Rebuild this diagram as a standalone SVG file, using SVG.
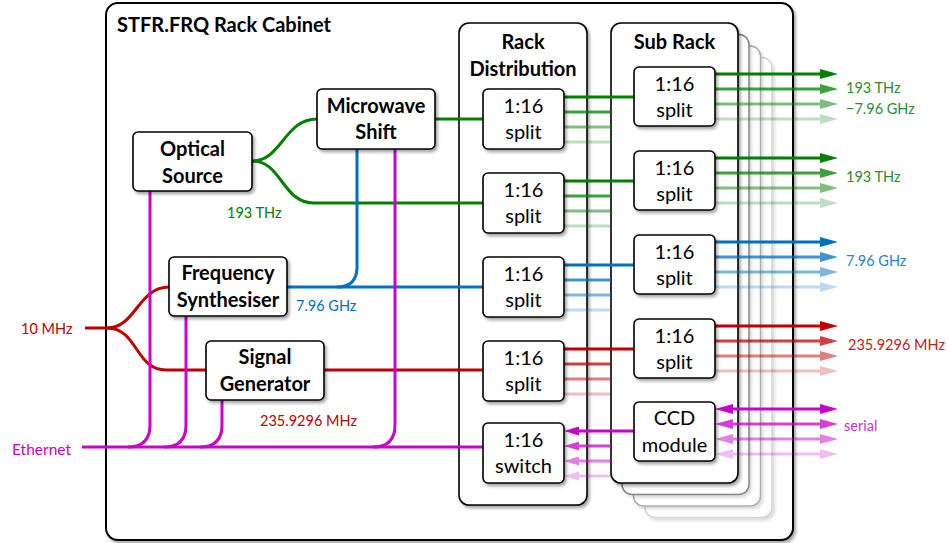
<svg xmlns="http://www.w3.org/2000/svg" width="948" height="543" viewBox="0 0 948 543">
<defs>
<filter id="sh" x="-20%" y="-20%" width="140%" height="140%"><feDropShadow dx="2" dy="2.5" stdDeviation="1.8" flood-color="#000" flood-opacity="0.35"/></filter>
<filter id="shl" x="-20%" y="-20%" width="140%" height="140%"><feDropShadow dx="2" dy="2.5" stdDeviation="1.8" flood-color="#000" flood-opacity="0.15"/></filter>
<marker id="aG" markerUnits="userSpaceOnUse" markerWidth="18" markerHeight="10" refX="8" refY="5" orient="auto-start-reverse"><path d="M0,0 L18,5 L0,10 z" fill="#008000"/></marker>
<marker id="aB" markerUnits="userSpaceOnUse" markerWidth="18" markerHeight="10" refX="8" refY="5" orient="auto-start-reverse"><path d="M0,0 L18,5 L0,10 z" fill="#0070c0"/></marker>
<marker id="aR" markerUnits="userSpaceOnUse" markerWidth="18" markerHeight="10" refX="8" refY="5" orient="auto-start-reverse"><path d="M0,0 L18,5 L0,10 z" fill="#c00000"/></marker>
<marker id="aM" markerUnits="userSpaceOnUse" markerWidth="18" markerHeight="10" refX="8" refY="5" orient="auto-start-reverse"><path d="M0,0 L18,5 L0,10 z" fill="#cc00cc"/></marker>
<marker id="aMs" markerUnits="userSpaceOnUse" markerWidth="15" markerHeight="9" refX="7" refY="4.5" orient="auto"><path d="M0,0 L15,4.5 L0,9 z" fill="#cc00cc"/></marker>
</defs>
<style>
.box{fill:#fff;stroke:#000;stroke-width:1.6;filter:url(#sh)}
.panel{fill:#fff;stroke:#000;stroke-width:1.6;filter:url(#sh)}
.layer{fill:#fff;stroke-width:1.5;filter:url(#shl)}
.t{font-family:Lato,"Open Sans","Liberation Sans",sans-serif;font-size:20px;text-anchor:middle;fill:#000}
.b{font-weight:bold}
.lbl{font-family:Lato,"Open Sans","Liberation Sans",sans-serif;font-size:14.5px}
.w{fill:none;stroke-width:3}
.g{stroke:#008000}.bl{stroke:#0070c0}.r{stroke:#c00000}.m{stroke:#cc00cc}
.o2{opacity:0.75}.o3{opacity:0.5}.o4{opacity:0.25}
</style>
<rect width="948" height="543" fill="#fff"/>

<g id="cabinet">
<rect class="panel" x="106" y="3" width="687" height="537" rx="12" style="stroke-width:2"/>
<text class="t b" x="117" y="31.5" style="text-anchor:start">STFR.FRQ Rack Cabinet</text>
</g>

<g id="rack-distribution">
<rect class="panel" x="459" y="23" width="128" height="482" rx="10"/>
<text class="t b" x="523" y="49">Rack</text>
<text class="t b" x="523" y="76">Distribution</text>
</g>

<g id="sub-rack-stack">
<rect class="layer" x="645" y="57.5" width="127" height="460" rx="10" style="stroke:#d4d4d4"/>
<rect class="layer" x="633.5" y="46" width="127" height="460" rx="10" style="stroke:#ababab"/>
<rect class="layer" x="622" y="34.5" width="127" height="460" rx="10" style="stroke:#828282"/>
</g>
<g id="sub-rack">
<rect class="panel" x="611" y="23" width="127" height="460" rx="10"/>
<text class="t b" x="674.5" y="49">Sub Rack</text>
</g>

<g id="connectors">
<g class="w g">
<path d="M252,161 C282,161 284,119 317,119"/>
<path d="M252,161 C282,161 282,203 314,203 H483"/>
<path d="M435,119 H483"/>
<path d="M564,97 H634"/>
<path d="M564,181 H634"/>
</g>
<g class="w g o2"><path d="M564,112 H611 M564,196 H611"/></g>
<g class="w g o3"><path d="M564,127 H611 M564,211 H611"/></g>
<g class="w g o4"><path d="M564,142 H611 M564,226 H611"/></g>
<g class="w g" marker-end="url(#aG)"><path d="M715,74 H828"/><path d="M715,158 H828"/></g>
<g class="w g o2" marker-end="url(#aG)"><path d="M715,89 H828"/><path d="M715,173 H828"/></g>
<g class="w g o3" marker-end="url(#aG)"><path d="M715,104 H828"/><path d="M715,188 H828"/></g>
<g class="w g o4" marker-end="url(#aG)"><path d="M715,119 H828"/><path d="M715,203 H828"/></g>
<g class="w bl">
<path d="M357,149 V267 Q357,287 337,287"/>
<path d="M287,287 H483"/>
<path d="M564,265 H634"/>
</g>
<g class="w bl o2"><path d="M564,280 H611"/></g>
<g class="w bl o3"><path d="M564,295 H611"/></g>
<g class="w bl o4"><path d="M564,310 H611"/></g>
<g class="w bl" marker-end="url(#aB)"><path d="M715,242 H828"/></g>
<g class="w bl o2" marker-end="url(#aB)"><path d="M715,257 H828"/></g>
<g class="w bl o3" marker-end="url(#aB)"><path d="M715,272 H828"/></g>
<g class="w bl o4" marker-end="url(#aB)"><path d="M715,287 H828"/></g>
<g class="w r">
<path d="M85,328 H107"/>
<path d="M107,328 C136,328 138,287 169,287"/>
<path d="M107,328 C138,328 135,370 166,370 H206"/>
<path d="M324,370 H483"/>
<path d="M564,349 H634"/>
</g>
<g class="w r o2"><path d="M564,364 H611"/></g>
<g class="w r o3"><path d="M564,379 H611"/></g>
<g class="w r o4"><path d="M564,394 H611"/></g>
<g class="w r" marker-end="url(#aR)"><path d="M715,326 H828"/></g>
<g class="w r o2" marker-end="url(#aR)"><path d="M715,341 H828"/></g>
<g class="w r o3" marker-end="url(#aR)"><path d="M715,356 H828"/></g>
<g class="w r o4" marker-end="url(#aR)"><path d="M715,371 H828"/></g>
<g class="w m">
<path d="M82,447 H483"/>
<path d="M150,191 V425 Q150,447 128,447"/>
<path d="M186,316 V425 Q186,447 164,447"/>
<path d="M222,400 V425 Q222,447 200,447"/>
<path d="M395,149 V425 Q395,447 373,447"/>
</g>
<g class="w m" marker-end="url(#aMs)"><path d="M634,431 H572"/></g>
<g class="w m o2" marker-end="url(#aMs)"><path d="M611,446 H572"/></g>
<g class="w m o3" marker-end="url(#aMs)"><path d="M611,461 H572"/></g>
<g class="w m o4" marker-end="url(#aMs)"><path d="M611,476 H572"/></g>
<g class="w m" marker-start="url(#aM)" marker-end="url(#aM)"><path d="M725,409 H828"/></g>
<g class="w m o2" marker-start="url(#aM)" marker-end="url(#aM)"><path d="M725,424 H828"/></g>
<g class="w m o3" marker-start="url(#aM)" marker-end="url(#aM)"><path d="M725,439 H828"/></g>
<g class="w m o4" marker-start="url(#aM)" marker-end="url(#aM)"><path d="M725,454 H828"/></g>
</g>

<g id="labels" class="lbl">
<text x="227" y="218" fill="#008000">193 THz</text>
<text x="296" y="311" fill="#0070c0">7.96 GHz</text>
<text x="260" y="426" fill="#c00000">235.9296 MHz</text>
<text x="21" y="334" fill="#c00000">10 MHz</text>
<text x="12" y="455" fill="#cc00cc" style="font-size:15.5px">Ethernet</text>
<text x="846" y="93" fill="#2e8b2e">193 THz</text>
<text x="846" y="114" fill="#2e8b2e">−7.96 GHz</text>
<text x="846" y="182" fill="#2e8b2e">193 THz</text>
<text x="846" y="266" fill="#2f7fc4">7.96 GHz</text>
<text x="848" y="350" fill="#c42020">235.9296 MHz</text>
<text x="844" y="431" fill="#cc33cc">serial</text>
</g>

<g id="optical-source"><rect class="box" x="133" y="132" width="119" height="59" rx="5"/><text class="t b" x="192.5" y="156">Optical</text><text class="t b" x="192.5" y="183">Source</text></g>
<g id="microwave-shift"><rect class="box" x="317" y="89" width="118" height="60" rx="5"/><text class="t b" x="376" y="113">Microwave</text><text class="t b" x="376" y="139">Shift</text></g>
<g id="frequency-synthesiser"><rect class="box" x="169" y="257" width="118" height="59" rx="5"/><text class="t b" x="228" y="280">Frequency</text><text class="t b" x="228" y="307">Synthesiser</text></g>
<g id="signal-generator"><rect class="box" x="206" y="341" width="118" height="59" rx="5"/><text class="t b" x="265" y="364">Signal</text><text class="t b" x="265" y="391">Generator</text></g>

<g id="rd-split-1"><rect class="box" x="483" y="89" width="81" height="60" rx="5"/><text class="t" x="523.5" y="113">1:16</text><text class="t" x="523.5" y="139">split</text></g>
<g id="rd-split-2"><rect class="box" x="483" y="173" width="81" height="60" rx="5"/><text class="t" x="523.5" y="197">1:16</text><text class="t" x="523.5" y="223">split</text></g>
<g id="rd-split-3"><rect class="box" x="483" y="257" width="81" height="60" rx="5"/><text class="t" x="523.5" y="281">1:16</text><text class="t" x="523.5" y="307">split</text></g>
<g id="rd-split-4"><rect class="box" x="483" y="341" width="81" height="60" rx="5"/><text class="t" x="523.5" y="365">1:16</text><text class="t" x="523.5" y="391">split</text></g>
<g id="rd-switch"><rect class="box" x="483" y="423" width="81" height="60" rx="5"/><text class="t" x="523.5" y="447">1:16</text><text class="t" x="523.5" y="473">switch</text></g>

<g id="sr-split-1"><rect class="box" x="634" y="67" width="81" height="59" rx="5"/><text class="t" x="674.5" y="91">1:16</text><text class="t" x="674.5" y="117">split</text></g>
<g id="sr-split-2"><rect class="box" x="634" y="151" width="81" height="59" rx="5"/><text class="t" x="674.5" y="175">1:16</text><text class="t" x="674.5" y="201">split</text></g>
<g id="sr-split-3"><rect class="box" x="634" y="235" width="81" height="59" rx="5"/><text class="t" x="674.5" y="259">1:16</text><text class="t" x="674.5" y="285">split</text></g>
<g id="sr-split-4"><rect class="box" x="634" y="319" width="81" height="59" rx="5"/><text class="t" x="674.5" y="343">1:16</text><text class="t" x="674.5" y="369">split</text></g>
<g id="ccd-module"><rect class="box" x="634" y="402" width="81" height="59" rx="5"/><text class="t" x="674.5" y="425">CCD</text><text class="t" x="674.5" y="452">module</text></g>
</svg>
